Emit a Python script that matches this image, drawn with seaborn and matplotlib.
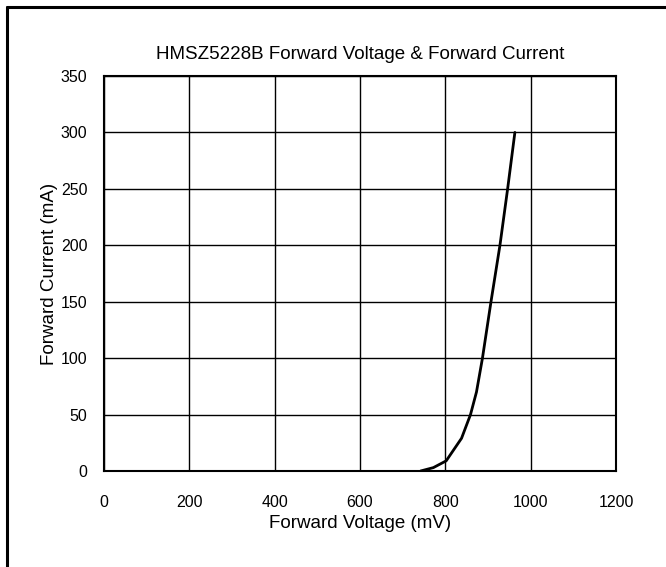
import matplotlib
matplotlib.use("Agg")
import matplotlib.pyplot as plt
import seaborn as sns
import pandas as pd
from matplotlib.lines import Line2D

voltage_mv = [742, 772, 802, 838, 859, 873, 887, 907, 928, 946, 963]
current_ma = [0, 3, 9, 29, 50, 70, 100, 150, 200, 250, 300]
x_ticks = [0, 200, 400, 600, 800, 1000, 1200]
y_ticks = [0, 50, 100, 150, 200, 250, 300, 350]

sns.set_theme(style="white")
plt.rcParams['font.family'] = ['Liberation Sans', 'DejaVu Sans']

df = pd.DataFrame({"v": voltage_mv, "i": current_ma})

fig = plt.figure(figsize=(6.66, 5.67), dpi=100)
ax = fig.add_axes([104/666, 1-471/567, (616-104)/666, (471-76)/567])

sns.lineplot(data=df, x="v", y="i", ax=ax, color="black", linewidth=2, sort=False)

ax.set_xlim(0, 1200)
ax.set_ylim(0, 350)
ax.set_xticks(x_ticks)
ax.set_yticks(y_ticks)
ax.grid(True, color="black", linewidth=1)
ax.tick_params(axis="both", length=0, labelsize=11.5, colors="black")
ax.tick_params(axis="x", pad=17)
ax.tick_params(axis="y", pad=12)
for s in ax.spines.values():
    s.set_visible(True)
    s.set_color("black")
    s.set_linewidth(1.5)

ax.set_title("HMSZ5228B Forward Voltage & Forward Current", fontsize=13.5, pad=12, color="black")
ax.set_xlabel("Forward Voltage (mV)", fontsize=13.5, labelpad=4, color="black")
ax.set_ylabel("Forward Current (mA)", fontsize=13.5, labelpad=2, color="black")

# outer frame (left and top edges visible)
fig.add_artist(Line2D([7/666, 7/666], [0, 1-7/567], transform=fig.transFigure, color="black", linewidth=2.2))
fig.add_artist(Line2D([7/666, 1], [1-7/567, 1-7/567], transform=fig.transFigure, color="black", linewidth=2.2))

fig.savefig("out.png", dpi=100, facecolor="white")
